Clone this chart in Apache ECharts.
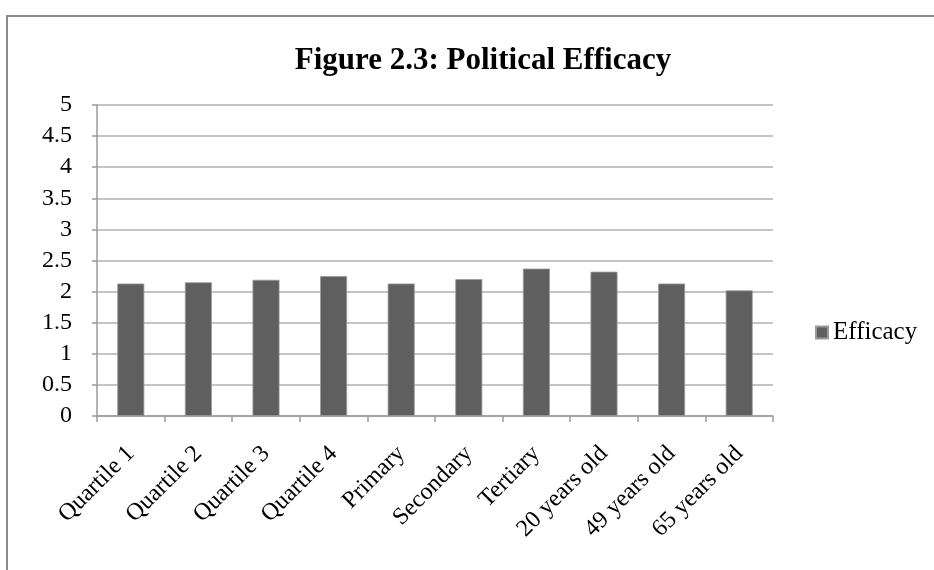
<!DOCTYPE html>
<html>
<head>
<meta charset="utf-8">
<script src="https://cdn.jsdelivr.net/npm/echarts@6/dist/echarts.min.js"></script>
<style>
  html, body { margin: 0; padding: 0; background: #fff; }
  #chart { width: 934px; height: 570px; }
</style>
</head>
<body>
<div id="chart"></div>
<script>
// Political efficacy scores by group
const categories = ['Quartile 1', 'Quartile 2', 'Quartile 3', 'Quartile 4', 'Primary',
  'Secondary', 'Tertiary', '20 years old', '49 years old', '65 years old'];
const efficacy = [2.13, 2.15, 2.19, 2.25, 2.13, 2.20, 2.37, 2.32, 2.13, 2.02];
const yTicks = [0, 0.5, 1, 1.5, 2, 2.5, 3, 3.5, 4, 4.5, 5];

const font = '"Liberation Serif", "Times New Roman", serif';
const chart = echarts.init(document.getElementById('chart'));
chart.setOption({
  backgroundColor: '#fff',
  animation: false,
  title: {
    text: 'Figure 2.3: Political Efficacy',
    left: 478, top: 40, textAlign: 'center',
    textStyle: { fontFamily: font, fontWeight: 'bold', fontSize: 31, color: '#000' }
  },
  graphic: [{
    type: 'rect',
    shape: { x: 7, y: 16, width: 940, height: 570 },
    style: { fill: 'none', stroke: '#8a8a8a', lineWidth: 2 }
  }],
  legend: {
    data: ['Efficacy'],
    left: 810, top: 315,
    icon: 'rect', itemWidth: 12, itemHeight: 12,
    textStyle: { fontFamily: font, fontSize: 25, color: '#000' }
  },
  grid: { left: 97, right: 161, top: 105, bottom: 154, containLabel: false },
  xAxis: {
    type: 'category',
    data: categories,
    boundaryGap: true,
    axisLine: { lineStyle: { color: '#9a9a9a', width: 1.5 } },
    axisTick: { show: true, length: 6, interval: 0, lineStyle: { color: '#9a9a9a', width: 1.5 } },
    axisLabel: {
      interval: 0, rotate: 45, margin: 34,
      fontFamily: font, fontSize: 24, color: '#000'
    }
  },
  yAxis: {
    type: 'value',
    min: yTicks[0], max: yTicks[yTicks.length - 1], interval: 0.5,
    axisLine: { show: true, lineStyle: { color: '#9a9a9a', width: 1.5 } },
    axisTick: { show: true, length: 5, lineStyle: { color: '#9a9a9a', width: 1.5 } },
    splitLine: { lineStyle: { color: '#b0b0b0', width: 1.5 } },
    axisLabel: {
      margin: 25, fontFamily: font, fontSize: 24, color: '#000',
      formatter: v => String(v)
    }
  },
  series: [{
    name: 'Efficacy',
    type: 'bar',
    data: efficacy,
    barWidth: 27,
    itemStyle: { color: '#5f5f5f', borderColor: '#9a9a9a', borderWidth: 0.8 }
  }]
});
</script>
</body>
</html>
